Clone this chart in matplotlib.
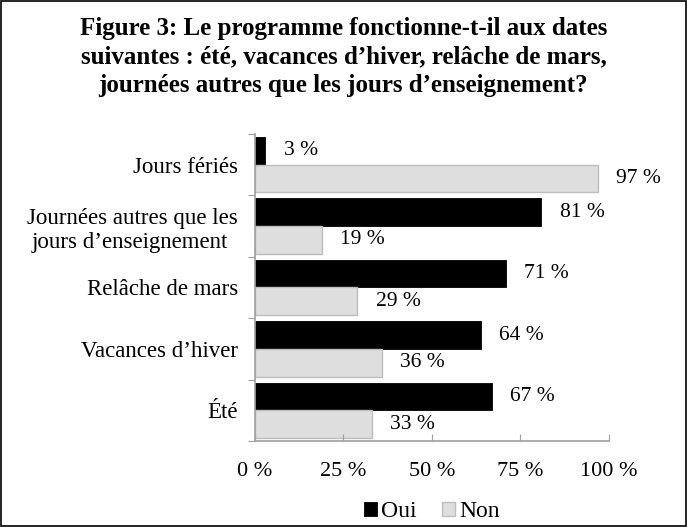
import matplotlib
matplotlib.use("Agg")
import matplotlib.pyplot as plt
from matplotlib.patches import Rectangle
import numpy as np

# categories listed top to bottom
categories = ["Jours fériés", "Journées autres que les\njours d\u2019enseignement ",
              "Relâche de mars", "Vacances d\u2019hiver", "Été"]
oui = [3, 81, 71, 64, 67]
non = [97, 19, 29, 36, 33]
xticks = [0, 25, 50, 75, 100]
xtick_labels = ["0 %", "25 %", "50 %", "75 %", "100 %"]
title = ("Figure 3: Le programme fonctionne-t-il aux dates\n"
         "suivantes : été, vacances d\u2019hiver, relâche de mars,\n"
         "journées autres que les jours d\u2019enseignement?")

plt.rcParams.update({"font.family": "Liberation Serif", "font.size": 15.5})

fig = plt.figure(figsize=(6.87, 5.27), dpi=100)
ax = fig.add_axes([0.371, 0.163, 0.515, 0.583])

n = len(categories)
y = np.arange(n)[::-1].astype(float)  # first category on top
h = 0.45
ax.barh(y + h / 2, oui, height=h, color="black", edgecolor="black", linewidth=0.6, label="Oui")
ax.barh(y - h / 2, non, height=h, color="#dedede", edgecolor="#bdbdbd", linewidth=1.0, label="Non")

for yi, v in zip(y, oui):
    ax.annotate(f"{v} %", (v, yi + h / 2), xytext=(13, 0), textcoords="offset points",
                ha="left", va="center", fontsize=15.5)
for yi, v in zip(y, non):
    ax.annotate(f"{v} %", (v, yi - h / 2), xytext=(13, 0), textcoords="offset points",
                ha="left", va="center", fontsize=15.5)

ax.set_xlim(0, 100)
ax.set_ylim(-0.5, n - 0.5)
ax.set_xticks(xticks)
ax.set_xticklabels(xtick_labels, fontsize=16)
ax.tick_params(axis="x", direction="in", length=5, color="#a0a0a0", pad=15)

# y: boundary ticks (major) and category labels (minor)
ax.set_yticks(np.arange(n + 1) - 0.5)
ax.set_yticklabels([])
ax.tick_params(axis="y", which="major", direction="out", length=5, color="#a0a0a0")
ax.set_yticks(y, minor=True)
ax.set_yticklabels(categories, minor=True, ha="right", multialignment="center", fontsize=16.5)
ax.tick_params(axis="y", which="minor", length=0, pad=12)

for s in ["top", "right"]:
    ax.spines[s].set_visible(False)
for s in ["left", "bottom"]:
    ax.spines[s].set_color("#a0a0a0")
    ax.spines[s].set_linewidth(1.2)

fig.suptitle(title, fontsize=18, fontweight="bold", y=0.967, linespacing=1.3)

leg = ax.legend(loc="center", bbox_to_anchor=(0.5, -0.23), ncol=2, frameon=False,
                handlelength=0.55, handleheight=0.55, handletextpad=0.2, columnspacing=1.05,
                fontsize=17, borderaxespad=0, borderpad=0)

fig.patches.append(Rectangle((0.002, 0.002), 0.996, 0.996, transform=fig.transFigure,
                             fill=False, edgecolor="black", linewidth=1.2))

fig.savefig("out.png", dpi=100)
